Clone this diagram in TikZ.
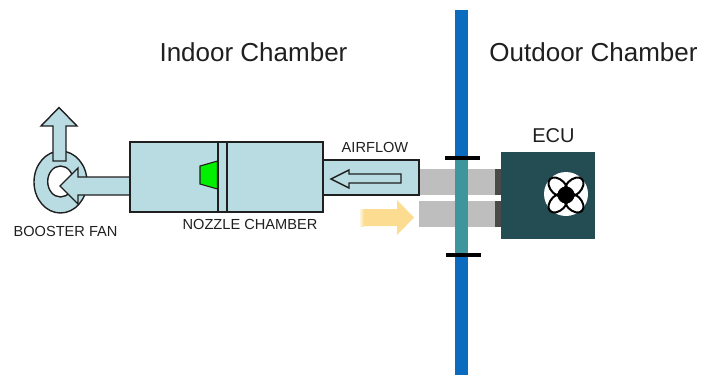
\documentclass[tikz,border=0pt]{standalone}
\usepackage{fontspec}
\setmainfont{Liberation Sans}
\definecolor{duct}{HTML}{B8DCE1}
\definecolor{wallblue}{HTML}{0B6CBF}
\definecolor{wallteal}{HTML}{3F959E}
\definecolor{ductgray}{HTML}{BEBEBE}
\definecolor{flange}{HTML}{4A4A4A}
\definecolor{ecubox}{HTML}{234D52}
\definecolor{warm}{HTML}{FBDC90}
\definecolor{nozzle}{HTML}{00F000}
\definecolor{ink}{HTML}{1F1F1F}
\tikzset{
  ductshape/.style={draw=ink,fill=duct,line width=1.4pt,line join=miter},
  dividerline/.style={draw=ink,line width=1.4pt},
  bigtitle/.style={text=ink,inner sep=0pt,font=\fontsize{26}{30}\selectfont},
  smalltitle/.style={text=ink,inner sep=0pt,font=\fontsize{14.6}{17}\selectfont},
  ecutitle/.style={text=ink,inner sep=0pt,font=\fontsize{20}{24}\selectfont},
  clampbar/.style={line width=4pt,black},
  petal/.style={draw=black,line width=2pt}
}
\begin{document}
\begin{tikzpicture}[x=1pt,y=-1pt]
\useasboundingbox (0,0) rectangle (701,375);
% wall
\fill[wallblue] (455,10) rectangle (468,375);
% gray ducts through the wall
\fill[ductgray] (419,169) rectangle (496,195);
\fill[ductgray] (419,201) rectangle (496,227);
\fill[flange] (495,169) rectangle (501,195);
\fill[flange] (495,201) rectangle (501,227);
\fill[wallteal] (455,159) rectangle (468,254);
\draw[clampbar] (445,158) -- (479.5,158);
\draw[clampbar] (446,254.5) -- (480.5,254.5);
% ECU
\fill[ecubox] (501,152) rectangle (595,239);
\fill[white] (566,194) circle (22);
\begin{scope}[shift={(566,195)}]
  \foreach \a in {45,135,225,315}
    \draw[petal,rotate=\a] (11,0) ellipse (11.5 and 7.5);
  \fill[black] (0,0) circle (8.5);
\end{scope}
% booster fan
\path[ductshape,even odd rule] (60.5,182) ellipse (26.5 and 31) (60.5,181.5) ellipse (12.8 and 15.5);
\draw[ductshape] (53,161) -- (53,126) -- (41,126) -- (59,107.5) -- (77,126) -- (66,126) -- (66,161) -- cycle;
\draw[ductshape] (130,177) -- (78,177) -- (78,168) -- (60,186) -- (78,204) -- (78,195) -- (130,195);
% chamber
\draw[ductshape] (323,160) rectangle (419,195);
\draw[ductshape] (130,142) rectangle (323,212);
\draw[dividerline] (218,142) -- (218,212);
\draw[dividerline] (227,142) -- (227,212);
\draw[draw=ink,fill=nozzle,line width=1.1pt] (217.5,161) -- (200,166) -- (200,184) -- (217.5,189) -- cycle;
% airflow arrows
\draw[ductshape] (401,174) -- (349,174) -- (349,170) -- (331,179) -- (349,188) -- (349,183) -- (401,183) -- cycle;
\fill[warm] (364,209) -- (397,209) -- (397,200) -- (414,217.5) -- (397,235) -- (397,226) -- (364,226) -- cycle;
\shade[left color=warm!30!white,right color=warm] (360,209) rectangle (364.2,226);
% labels
\node[bigtitle] (indoor) at (253.5,52) {Indoor Chamber};
\node[bigtitle] (outdoor) at (593.5,52) {Outdoor Chamber};
\node[ecutitle] (ecu) at (553.5,136) {ECU};
\node[smalltitle] (airflow) at (375,147) {AIRFLOW};
\node[smalltitle] (nozzlelabel) at (250,224) {NOZZLE CHAMBER};
\node[smalltitle] (fanlabel) at (65.5,231) {BOOSTER FAN};
\end{tikzpicture}
\end{document}
